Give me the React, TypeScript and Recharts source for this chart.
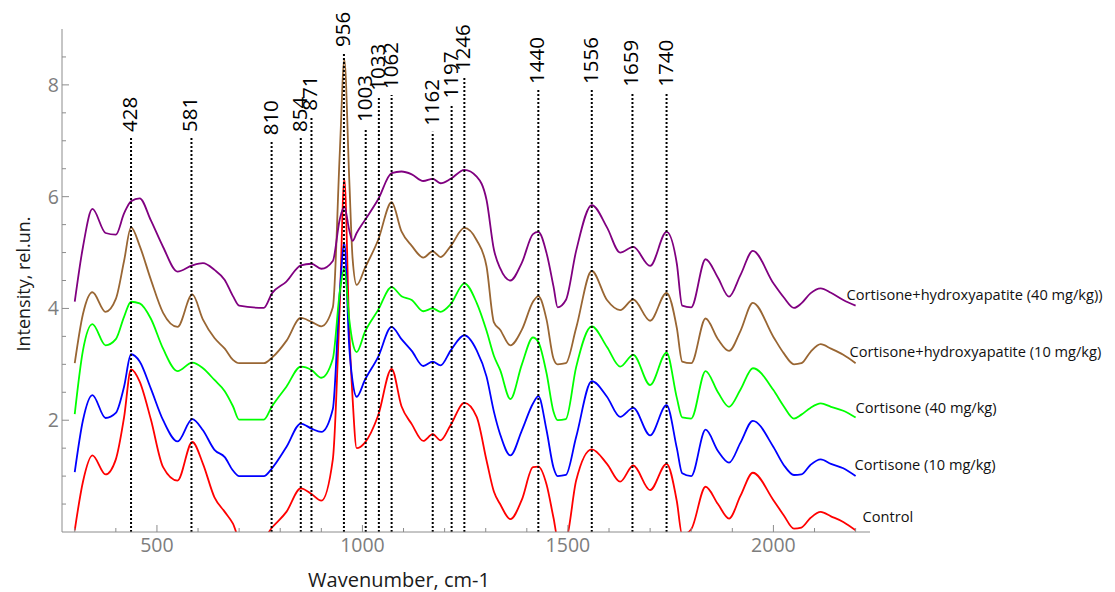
import { LineChart, Line, XAxis, YAxis, ReferenceLine, LabelList, Label } from "recharts";

// Raman spectra, offset by 1 rel.un. each
const wavenumbers = [
  300, 320, 343, 375, 400, 420, 437, 458, 485, 515, 550, 586, 612, 640, 665, 685, 700, 760, 780, 815,
  850, 876, 900, 928, 945, 956, 968, 976, 986, 1006, 1038, 1071, 1095, 1120, 1148, 1171, 1190, 1215, 1248, 1278,
  1302, 1320, 1335, 1360, 1388, 1415, 1428, 1448, 1465, 1475, 1495, 1520, 1558, 1595, 1627, 1659, 1700, 1740, 1765, 1778,
  1800, 1835, 1865, 1892, 1920, 1950, 2000, 2025, 2050, 2068, 2090, 2115, 2140, 2170, 2200,
];

const control = [
  0.03, 0.9, 1.37, 1.03, 1.3, 2.05, 2.91, 2.69, 2.02, 1.16, 0.92, 1.61, 1.22, 0.62, 0.36, 0.15, -0.1, -0.1, 0.08, 0.36,
  0.78, 0.68, 0.56, 1.3, 4.1, 6.32, 3.6, 2.4, 1.5, 1.6, 2.08, 2.92, 2.25, 1.93, 1.63, 1.75, 1.64, 1.92, 2.31, 2.06,
  1.28, 0.72, 0.5, 0.23, 0.58, 1.16, 1.17, 0.85, 0.25, -0.1, -0.1, 0.92, 1.48, 1.22, 0.9, 1.19, 0.75, 1.22, 0.55, -0.05,
  0.05, 0.81, 0.5, 0.24, 0.65, 1.06, 0.57, 0.3, 0.06, 0.08, 0.25, 0.36, 0.28, 0.18, 0.03,
];

const cortisone10 = [
  1.07, 2.0, 2.45, 2.04, 2.13, 2.6, 3.18, 3.05, 2.57, 2.0, 1.62, 2.02, 1.82, 1.47, 1.34, 1.1, 1.0, 1.0, 1.14, 1.52,
  1.94, 1.85, 1.79, 2.2, 4.3, 5.17, 3.3, 2.7, 2.42, 2.72, 3.13, 3.67, 3.45, 3.24, 2.97, 3.05, 2.98, 3.25, 3.52, 3.25,
  2.78, 2.15, 1.75, 1.37, 1.82, 2.3, 2.43, 1.82, 1.15, 1.0, 1.02, 1.7, 2.7, 2.42, 2.06, 2.22, 1.73, 2.27, 1.5, 1.05,
  1.0, 1.83, 1.45, 1.24, 1.6, 1.99, 1.52, 1.2, 1.02, 1.03, 1.2, 1.3, 1.22, 1.14, 1.0,
];

const cortisone40 = [
  2.11, 3.25, 3.72, 3.34, 3.45, 3.85, 4.12, 4.09, 3.82, 3.28, 2.88, 3.03, 2.93, 2.72, 2.52, 2.25, 2.01, 2.01, 2.25, 2.6,
  2.96, 2.9, 2.76, 3.1, 4.3, 4.72, 3.8, 3.4, 3.22, 3.58, 3.97, 4.38, 4.22, 4.15, 3.95, 4.0, 3.94, 4.08, 4.45, 4.1,
  3.6, 3.15, 2.9, 2.38, 3.0, 3.48, 3.4, 2.84, 2.15, 2.0, 2.02, 2.95, 3.68, 3.31, 2.96, 3.17, 2.63, 3.21, 2.4, 2.05,
  2.03, 2.88, 2.5, 2.24, 2.55, 2.93, 2.54, 2.25, 2.03, 2.1, 2.22, 2.3, 2.24, 2.17, 2.05,
];

const hydroxy10 = [
  3.02, 3.9, 4.29, 3.94, 4.17, 4.85, 5.45, 5.12, 4.52, 3.92, 3.67, 4.25, 3.8, 3.47, 3.28, 3.08, 3.02, 3.02, 3.12, 3.42,
  3.83, 3.76, 3.68, 4.02, 6.8, 8.45, 6.3, 4.9, 4.42, 4.72, 5.22, 5.9, 5.38, 5.12, 4.91, 5.02, 4.92, 5.12, 5.44, 5.22,
  4.75, 3.75, 3.62, 3.34, 3.62, 4.12, 4.22, 3.8, 3.1, 3.0, 3.02, 3.65, 4.67, 4.15, 3.97, 4.16, 3.78, 4.28, 3.65, 3.05,
  3.02, 3.82, 3.45, 3.24, 3.6, 4.1, 3.49, 3.2, 3.0, 3.02, 3.22, 3.36, 3.28, 3.17, 3.02,
];

const hydroxy40 = [
  4.12, 5.1, 5.78, 5.35, 5.32, 5.7, 5.92, 5.97, 5.58, 5.1, 4.66, 4.77, 4.81, 4.69, 4.51, 4.22, 4.05, 4.01, 4.27, 4.48,
  4.77, 4.8, 4.71, 4.85, 5.6, 5.82, 5.4, 5.21, 5.35, 5.58, 5.95, 6.42, 6.45, 6.4, 6.28, 6.32, 6.24, 6.32, 6.48, 6.36,
  5.94, 5.05, 4.72, 4.5, 4.82, 5.33, 5.37, 4.99, 4.39, 4.02, 4.15, 5.03, 5.85, 5.45, 5.0, 5.1, 4.76, 5.37, 4.8, 4.05,
  4.02, 4.88, 4.55, 4.21, 4.6, 5.03, 4.45, 4.2, 4.01, 4.09, 4.27, 4.36, 4.28, 4.15, 4.05,
];

const seriesKeys = ["hydroxy10", "control", "cortisone10", "cortisone40", "hydroxy40"];
const seriesNames: Record<string, string> = {
  control: "Control",
  cortisone10: "Cortisone (10 mg/kg)",
  cortisone40: "Cortisone (40 mg/kg)",
  hydroxy10: "Cortisone+hydroxyapatite (10 mg/kg)",
  hydroxy40: "Cortisone+hydroxyapatite (40 mg/kg))",
};

// peak markers: label, where the dotted line sits, how high it goes
const peakLabels = ["428", "581", "810", "854", "871", "956", "1003", "1033", "1062", "1162", "1197", "1246", "1440", "1556", "1659", "1740"];
const peakPositions = [437, 584, 779, 850, 876, 955, 1008, 1040, 1071, 1171, 1217, 1248, 1428, 1558, 1657, 1740];
const peakTops = [7.05, 7.05, 6.99, 7.05, 7.43, 8.57, 7.23, 7.79, 7.82, 7.16, 7.65, 8.14, 7.91, 7.91, 7.86, 7.86];

const xTicks = [300, 400, 500, 600, 700, 800, 900, 1000, 1100, 1200, 1300, 1400, 1500, 1600, 1700, 1800, 1900, 2000, 2100, 2200];
const yTicks = [0.5, 1, 1.5, 2, 2.5, 3, 3.5, 4, 4.5, 5, 5.5, 6, 6.5, 7, 7.5, 8, 8.5];

const COLORS: Record<string, string> = {
  control: "#FF0000",
  cortisone10: "#0000FF",
  cortisone40: "#00FF00",
  hydroxy10: "#996633",
  hydroxy40: "#800080",
};

// where each end label sits relative to the last point
const END_LABEL_NUDGE: Record<string, [number, number]> = {
  control: [7, -14],
  cortisone10: [-1, -12],
  cortisone40: [0, -10],
  hydroxy10: [-6, -12],
  hydroxy40: [-9, -12],
};

const FONT = "'Open Sans', 'Noto Sans', sans-serif";
const AXIS = "#8c8c8c";
const TICK_TEXT = "#7d7d7d";

const rows = wavenumbers.map((x, i) => ({
  x,
  control: control[i],
  cortisone10: cortisone10[i],
  cortisone40: cortisone40[i],
  hydroxy10: hydroxy10[i],
  hydroxy40: hydroxy40[i],
}));

function XTick(props: any) {
  const { x, y, payload } = props;
  const major = payload.value % 500 === 0;
  return (
    <g>
      <line x1={x} x2={x} y1={y} y2={y - (major ? 7 : 4)} stroke={AXIS} />
      {major && (
        <text x={x} y={y + 20} textAnchor="middle" fill={TICK_TEXT} fontSize={19.5} fontFamily={FONT}>
          {payload.value}
        </text>
      )}
    </g>
  );
}

function YTick(props: any) {
  const { x, y, payload } = props;
  const major = payload.value % 2 === 0;
  return (
    <g>
      <line x1={x} x2={x + (major ? 7 : 4)} y1={y} y2={y} stroke={AXIS} />
      {major && (
        <text x={x - 3} y={y + 7} textAnchor="end" fill={TICK_TEXT} fontSize={19.5} fontFamily={FONT}>
          {payload.value}
        </text>
      )}
    </g>
  );
}

function peakLabel(text: string) {
  return (props: any) => {
    const vb = props.viewBox || {};
    const x = vb.x - 2;
    const y = vb.y - 6;
    return (
      <text
        x={x}
        y={y}
        transform={`rotate(-90 ${x} ${y})`}
        textAnchor="start"
        dominantBaseline="central"
        fill="#000"
        fontSize={20.5}
        fontFamily={FONT}
      >
        {text}
      </text>
    );
  };
}

function endLabel(key: string) {
  return (props: any) => {
    if (props.index !== wavenumbers.length - 1) return null;
    const px = typeof props.x === "number" ? props.x : props.viewBox?.x;
    const py = typeof props.y === "number" ? props.y : props.viewBox?.y;
    const [dx, dy] = END_LABEL_NUDGE[key];
    return (
      <text
        x={px + dx}
        y={py + dy}
        dominantBaseline="central"
        fill="#111"
        fontSize={14.6}
        fontFamily={FONT}
      >
        {seriesNames[key]}
      </text>
    );
  };
}

export default function App() {
  return (
    <div style={{ position: "absolute", left: 0, top: 0, width: 1115, height: 592, background: "#fff" }}>
      <style>{".recharts-surface{overflow:visible}"}</style>
      <LineChart width={1115} height={592} data={rows} margin={{ top: 29, right: 245, bottom: 0, left: 0 }}>
        <XAxis
          type="number"
          dataKey="x"
          domain={[269, 2235]}
          ticks={xTicks}
          interval={0}
          allowDataOverflow
          height={60}
          tickLine={false}
          tickSize={0}
          tickMargin={0}
          tick={<XTick />}
          axisLine={{ stroke: AXIS }}
        >
          <Label
            content={() => (
              <text x={399} y={587} textAnchor="middle" fill="#1a1a1a" fontSize={20} fontFamily={FONT}>
                Wavenumber, cm-1
              </text>
            )}
          />
        </XAxis>
        <YAxis
          type="number"
          domain={[0, 9]}
          ticks={yTicks}
          interval={0}
          allowDataOverflow
          width={62}
          tickLine={false}
          tickSize={0}
          tickMargin={0}
          tick={<YTick />}
          axisLine={{ stroke: AXIS }}
        >
          <Label
            content={() => (
              <text
                x={23}
                y={284}
                transform="rotate(-90 23 284)"
                textAnchor="middle"
                dominantBaseline="central"
                fill="#1a1a1a"
                fontSize={18}
                fontFamily={FONT}
              >
                Intensity, rel.un.
              </text>
            )}
          />
        </YAxis>
        {seriesKeys.map((key) => (
          <Line
            key={key}
            type="monotone"
            dataKey={key}
            stroke={COLORS[key]}
            strokeWidth={1.8}
            dot={false}
            activeDot={false}
            isAnimationActive={false}
          >
            <LabelList dataKey={key} content={endLabel(key)} />
          </Line>
        ))}
        {peakPositions.map((pos, i) => (
          <ReferenceLine
            key={peakLabels[i]}
            segment={[
              { x: pos, y: 0 },
              { x: pos, y: peakTops[i] },
            ]}
            stroke="#000"
            strokeWidth={2}
            strokeDasharray="2 2"
            label={peakLabel(peakLabels[i])}
          />
        ))}
      </LineChart>
    </div>
  );
}
